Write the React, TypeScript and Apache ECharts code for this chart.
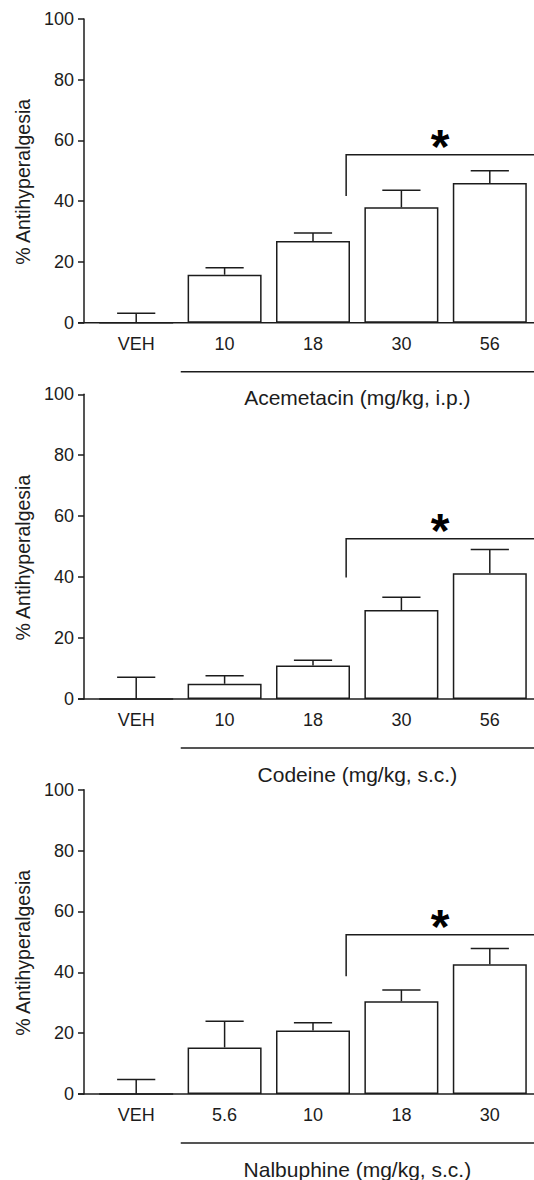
import React, { useEffect, useRef } from "react";
import * as echarts from "echarts";

// ---------- data ----------
const categories1 = ["VEH", "10", "18", "30", "56"];
const means1 = [0, 15.8, 26.9, 38.0, 46.0];
const sems1 = [3.1, 2.3, 2.6, 5.6, 4.0];
const bracket1 = [55.3, 41.7]; // [bracket top, left leg bottom] in % units
const title1 = "Acemetacin (mg/kg, i.p.)";

const categories2 = ["VEH", "10", "18", "30", "56"];
const means2 = [0, 5.0, 11.0, 29.2, 41.3];
const sems2 = [7.1, 2.6, 1.7, 4.2, 7.8];
const bracket2 = [52.6, 39.9];
const title2 = "Codeine (mg/kg, s.c.)";

const categories3 = ["VEH", "5.6", "10", "18", "30"];
const means3 = [0, 15.3, 20.9, 30.5, 42.6];
const sems3 = [4.8, 8.6, 2.5, 3.7, 5.2];
const bracket3 = [52.3, 38.7];
const title3 = "Nalbuphine (mg/kg, s.c.)";

const yMin = 0;
const yMax = 100;
const yInterval = 20;
const yAxisName = "% Antihyperalgesia";
const significanceMark = "*";
const bracketStartCategory = 2; // bracket starts just after this group

// ---------- layout / style ----------
const W = 534;
const H = 1180;
const FONT = "'Liberation Sans', Arial, Helvetica, sans-serif";
const INK = "#1c1c1c";
const GRID_LEFT = 92;
const BAND = 88.75;
const AXIS_OFFSET = 8;
const PANEL_TOPS = [19, 394.3, 789.7];
const PANEL_HEIGHTS = [303.7, 304.7, 304.3];

const panels = [
  { cats: categories1, means: means1, sems: sems1, bracket: bracket1, title: title1 },
  { cats: categories2, means: means2, sems: sems2, bracket: bracket2, title: title2 },
  { cats: categories3, means: means3, sems: sems3, bracket: bracket3, title: title3 },
];

function errorRender(params: any, api: any) {
  const x = api.value(0);
  const m = api.value(1);
  const s = api.value(2);
  const p0 = api.coord([x, m]);
  const p1 = api.coord([x, m + s]);
  const bw = api.size([1, 0])[0];
  const half = bw * 0.216;
  return {
    type: "group",
    children: [
      {
        type: "line",
        shape: { x1: p0[0], y1: p0[1], x2: p1[0], y2: p1[1] },
        style: { stroke: INK, lineWidth: 1.5 },
      },
      {
        type: "line",
        shape: { x1: p1[0] - half, y1: p1[1], x2: p1[0] + half, y2: p1[1] },
        style: { stroke: INK, lineWidth: 1.5 },
      },
    ],
  };
}

function bracketRender(params: any, api: any) {
  const c = api.value(0);
  const top = api.value(1);
  const bot = api.value(2);
  const bw = api.size([1, 0])[0];
  const pTop = api.coord([c, top]);
  const pBot = api.coord([c, bot]);
  const x0 = pTop[0] + bw * 0.375;
  const x1 = api.getWidth();
  return {
    type: "group",
    children: [
      {
        type: "polyline",
        shape: { points: [[x0, pBot[1]], [x0, pTop[1]], [x1, pTop[1]]] },
        style: { stroke: INK, lineWidth: 1.5, fill: null },
      },
      {
        type: "text",
        x: (x0 + x1) / 2,
        y: pTop[1] - 8,
        style: {
          text: significanceMark,
          fontSize: 48,
          fontWeight: "bold",
          fontFamily: FONT,
          fill: "#000",
          align: "center",
          verticalAlign: "middle",
        },
      },
    ],
  };
}

export default function App() {
  const ref = useRef<HTMLDivElement>(null);

  useEffect(() => {
    if (!ref.current) return;
    const chart = echarts.init(ref.current, undefined, { renderer: "svg" });

    const grid: any[] = [];
    const xAxis: any[] = [];
    const yAxis: any[] = [];
    const series: any[] = [];
    const graphic: any[] = [];

    panels.forEach((p, i) => {
      const top = PANEL_TOPS[i];
      const h = PANEL_HEIGHTS[i];
      const base = top + h;
      grid.push({ left: GRID_LEFT, top, width: BAND * p.cats.length, height: h, containLabel: false });
      xAxis.push({
        type: "category",
        gridIndex: i,
        data: p.cats,
        axisLine: { show: false },
        axisTick: { show: false },
        axisLabel: { fontSize: 18, color: INK, fontFamily: FONT, margin: 12 },
        splitLine: { show: false },
      });
      yAxis.push({
        type: "value",
        gridIndex: i,
        min: yMin,
        max: yMax,
        interval: yInterval,
        offset: AXIS_OFFSET,
        axisLine: { show: true, lineStyle: { color: INK, width: 1.5 } },
        axisTick: { show: true, length: 6, lineStyle: { color: INK, width: 1.5 } },
        axisLabel: { fontSize: 18, color: INK, fontFamily: FONT, margin: 10 },
        splitLine: { show: false },
        name: yAxisName,
        nameLocation: "middle",
        nameGap: 46,
        nameTextStyle: { fontSize: 19.5, color: INK, fontFamily: FONT, padding: [0, 22, 0, 0] },
      });
      series.push({
        type: "bar",
        xAxisIndex: i,
        yAxisIndex: i,
        data: p.means,
        barWidth: 74,
        itemStyle: { color: "#fff", borderColor: INK, borderWidth: 1.5 },
        z: 2,
      });
      series.push({
        type: "custom",
        xAxisIndex: i,
        yAxisIndex: i,
        data: p.means.map((m, j) => [j, m, p.sems[j]]),
        encode: { x: 0, y: 1 },
        renderItem: errorRender,
        z: 3,
      });
      series.push({
        type: "custom",
        xAxisIndex: i,
        yAxisIndex: i,
        data: [[bracketStartCategory, p.bracket[0], p.bracket[1]]],
        encode: { x: 0, y: [1, 2] },
        renderItem: bracketRender,
        clip: false,
        z: 3,
      });
      // baseline (x axis line, extends past the plot like the original)
      graphic.push({
        type: "line",
        shape: { x1: GRID_LEFT - AXIS_OFFSET - 6, y1: base, x2: W, y2: base },
        style: { stroke: INK, lineWidth: 1.5 },
        z: 10,
      });
      // dose-group underline
      const ulStart = GRID_LEFT + BAND;
      graphic.push({
        type: "line",
        shape: { x1: ulStart, y1: base + 49, x2: W, y2: base + 49 },
        style: { stroke: INK, lineWidth: 1.5 },
      });
      graphic.push({
        type: "text",
        x: (ulStart + W) / 2,
        y: base + 75,
        style: {
          text: p.title,
          fontSize: 21,
          fontFamily: FONT,
          fill: INK,
          align: "center",
          verticalAlign: "middle",
        },
      });
    });

    chart.setOption({
      animation: false,
      backgroundColor: "#fff",
      grid,
      xAxis,
      yAxis,
      series,
      graphic,
    });

    return () => chart.dispose();
  }, []);

  return (
    <div
      ref={ref}
      style={{ position: "absolute", left: 0, top: 0, width: W, height: H, background: "#fff" }}
    />
  );
}
